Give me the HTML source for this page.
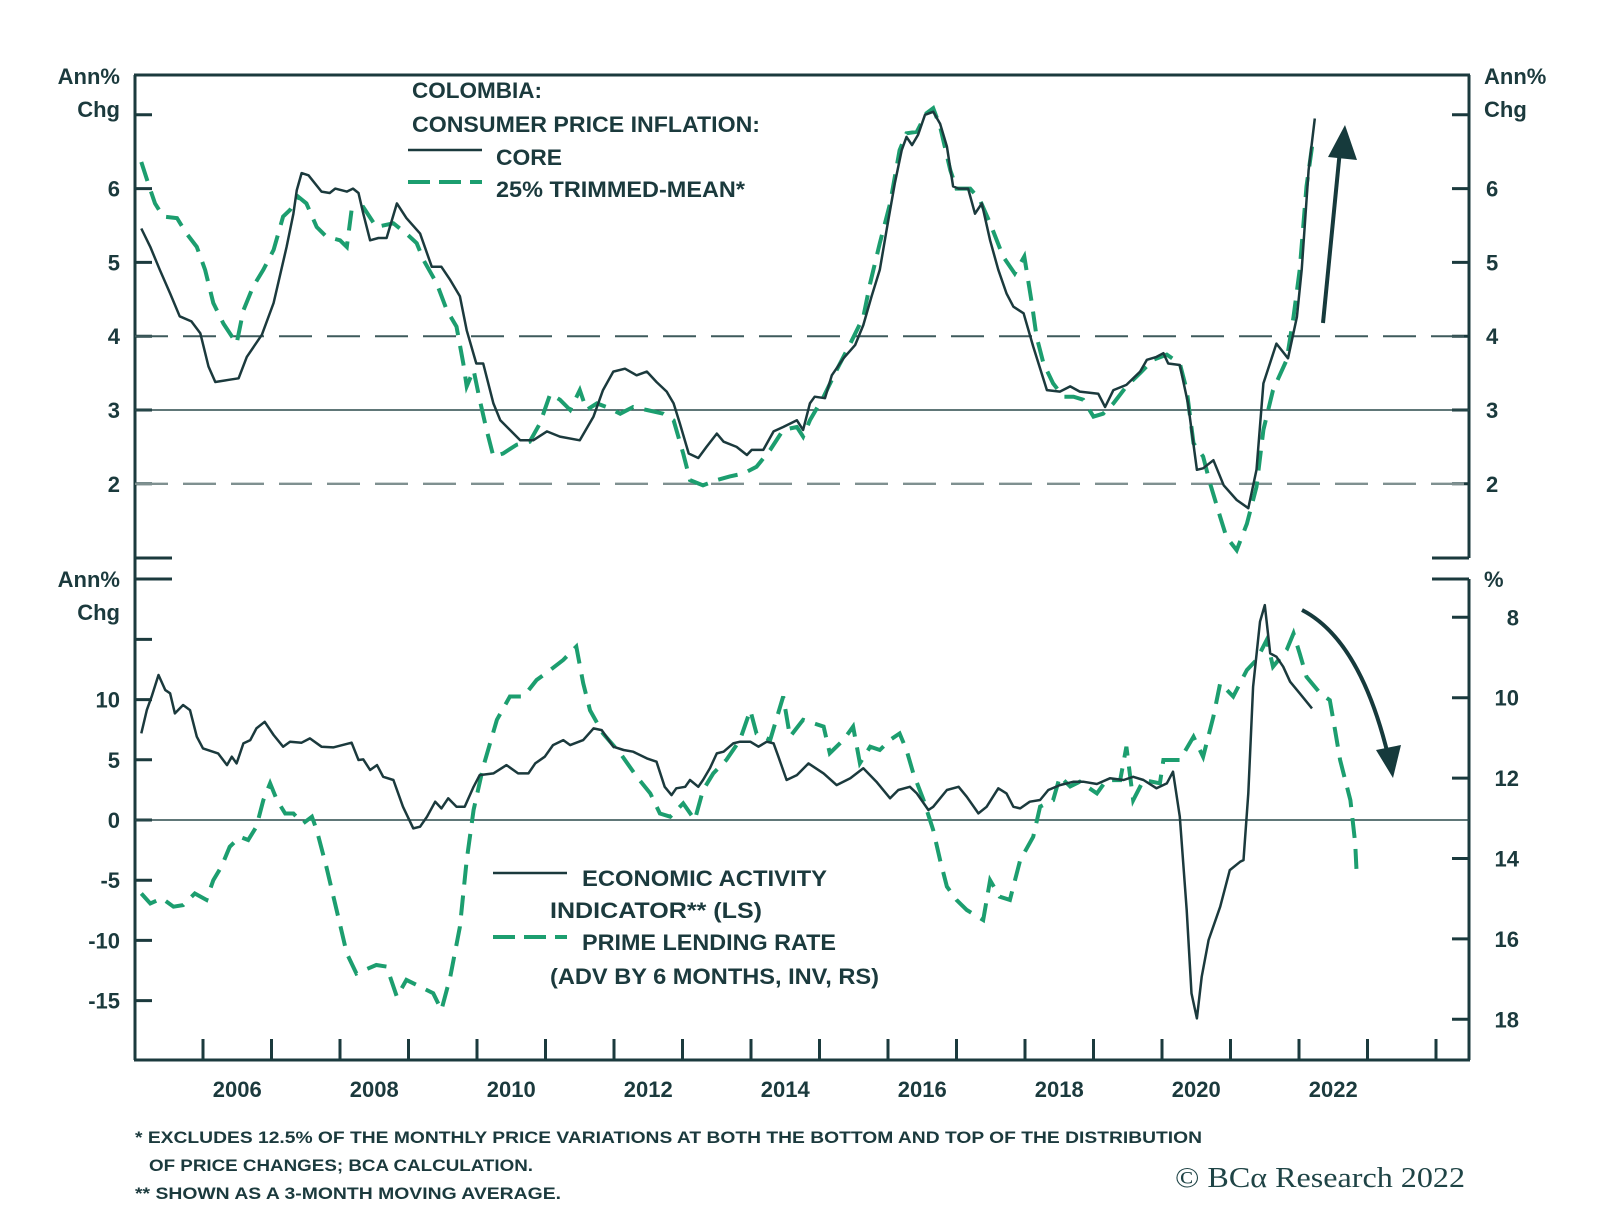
<!DOCTYPE html>
<html><head><meta charset="utf-8"><title>Colombia CPI and Economic Activity</title>
<style>
html,body{margin:0;padding:0;background:#fff;}
svg{display:block;}
text{font-family:"Liberation Sans",sans-serif;fill:#1b3a3d;font-weight:bold;}
</style></head>
<body>
<svg id="chart" width="1600" height="1232" viewBox="0 0 1600 1232" xmlns="http://www.w3.org/2000/svg">
  <g id="frame"></g>
  <g id="refs"></g>
  <g id="series"></g>
  <g id="labels"></g>
  <g>
    <text x="412" y="98" font-size="22" textLength="130" lengthAdjust="spacingAndGlyphs">COLOMBIA:</text>
    <text x="412" y="132" font-size="22" textLength="348" lengthAdjust="spacingAndGlyphs">CONSUMER PRICE INFLATION:</text>
    <line x1="408" y1="150" x2="482" y2="150" stroke="#1b3a3d" stroke-width="2.5"/>
    <text x="496" y="165" font-size="22" textLength="66" lengthAdjust="spacingAndGlyphs">CORE</text>
    <line x1="408" y1="182" x2="482" y2="182" stroke="#1c9e6f" stroke-width="4" stroke-dasharray="22,9"/>
    <text x="496" y="197" font-size="22" textLength="249" lengthAdjust="spacingAndGlyphs">25% TRIMMED-MEAN*</text>
  </g>
  <g>
    <line x1="493" y1="873" x2="567" y2="873" stroke="#1b3a3d" stroke-width="2.5"/>
    <text x="582" y="886" font-size="22" textLength="245" lengthAdjust="spacingAndGlyphs">ECONOMIC ACTIVITY</text>
    <text x="550" y="918" font-size="22" textLength="212" lengthAdjust="spacingAndGlyphs">INDICATOR** (LS)</text>
    <line x1="493" y1="937" x2="567" y2="937" stroke="#1c9e6f" stroke-width="4" stroke-dasharray="22,9"/>
    <text x="582" y="950" font-size="22" textLength="254" lengthAdjust="spacingAndGlyphs">PRIME LENDING RATE</text>
    <text x="550" y="984" font-size="22" textLength="329" lengthAdjust="spacingAndGlyphs">(ADV BY 6 MONTHS, INV, RS)</text>
  </g>
  <g>
    <line x1="1323" y1="323" x2="1340" y2="150" stroke="#163a3c" stroke-width="4"/>
    <polygon points="1345,125 1328,157 1357,160" fill="#163a3c"/>
    <path d="M1302,610 Q1360,640 1388,755" fill="none" stroke="#163a3c" stroke-width="4"/>
    <polygon points="1376,750 1401,745 1393,778" fill="#163a3c"/>
  </g>
  <g>
    <text x="135" y="1143" font-size="17" textLength="1067" lengthAdjust="spacingAndGlyphs">*  EXCLUDES 12.5% OF THE MONTHLY PRICE VARIATIONS AT BOTH THE BOTTOM AND TOP OF THE DISTRIBUTION</text>
    <text x="149" y="1171" font-size="17" textLength="384" lengthAdjust="spacingAndGlyphs">OF PRICE CHANGES; BCA CALCULATION.</text>
    <text x="135" y="1199" font-size="17" textLength="426" lengthAdjust="spacingAndGlyphs">** SHOWN AS A 3-MONTH MOVING AVERAGE.</text>
    <text x="1175" y="1187" font-size="29" textLength="290" lengthAdjust="spacingAndGlyphs" style="font-family:'Liberation Serif',serif;font-weight:normal;fill:#1f4446">© BCα Research 2022</text>
  </g>
</svg>
<script>
// ---------- data ----------
const yearTicks = [2006,2007,2008,2009,2010,2011,2012,2013,2014,2015,2016,2017,2018,2019,2020,2021,2022,2023,2024];
const yearLabels = [2006,2008,2010,2012,2014,2016,2018,2020,2022];
const topTicks = [2,3,4,5,6,7];
const topTickLabels = [2,3,4,5,6];
const leftTicks = [-15,-10,-5,0,5,10,15];
const leftTickLabels = [-15,-10,-5,0,5,10];
const rightTicks = [8,10,12,14,16,18];

const coreT = [2005.10,2005.23,2005.37,2005.52,2005.66,2005.83,2005.96,2006.08,2006.18,2006.39,2006.52,2006.64,2006.86,2007.03,2007.22,2007.32,2007.37,2007.44,2007.54,2007.73,2007.85,2007.93,2008.10,2008.19,2008.27,2008.34,2008.44,2008.56,2008.68,2008.83,2008.97,2009.17,2009.34,2009.48,2009.61,2009.75,2009.85,2009.99,2010.09,2010.24,2010.34,2010.48,2010.63,2010.82,2011.02,2011.21,2011.50,2011.70,2011.84,2011.99,2012.16,2012.33,2012.48,2012.62,2012.77,2012.87,2012.96,2013.09,2013.23,2013.35,2013.50,2013.60,2013.79,2013.94,2014.01,2014.18,2014.33,2014.47,2014.67,2014.76,2014.86,2014.93,2015.08,2015.18,2015.35,2015.52,2015.64,2015.76,2015.88,2015.98,2016.10,2016.20,2016.27,2016.35,2016.44,2016.54,2016.66,2016.76,2016.86,2016.95,2017.03,2017.17,2017.27,2017.37,2017.49,2017.61,2017.73,2017.83,2017.98,2018.12,2018.32,2018.51,2018.66,2018.80,2019.07,2019.17,2019.29,2019.48,2019.68,2019.78,2019.92,2020.02,2020.09,2020.26,2020.38,2020.51,2020.60,2020.75,2020.90,2021.09,2021.26,2021.38,2021.48,2021.67,2021.84,2021.97,2022.04,2022.14,2022.23];
const coreV = [5.46,5.21,4.90,4.58,4.27,4.20,4.04,3.59,3.38,3.41,3.43,3.72,4.02,4.45,5.21,5.66,5.98,6.21,6.18,5.96,5.94,6.00,5.96,6.00,5.94,5.66,5.30,5.33,5.33,5.80,5.60,5.39,4.94,4.94,4.76,4.54,4.08,3.63,3.63,3.09,2.86,2.73,2.59,2.59,2.71,2.64,2.59,2.91,3.27,3.52,3.56,3.47,3.52,3.38,3.25,3.09,2.82,2.41,2.35,2.50,2.68,2.57,2.50,2.39,2.46,2.46,2.71,2.77,2.86,2.73,3.09,3.18,3.16,3.47,3.70,3.88,4.15,4.54,4.90,5.44,6.07,6.52,6.70,6.59,6.73,7.00,7.04,6.88,6.57,6.03,6.00,6.00,5.66,5.80,5.30,4.90,4.58,4.40,4.31,3.86,3.27,3.25,3.32,3.25,3.22,3.04,3.27,3.34,3.52,3.68,3.72,3.77,3.63,3.61,3.09,2.19,2.21,2.32,1.98,1.78,1.67,2.19,3.36,3.90,3.70,4.26,4.90,6.25,6.95];

const trimT = [2005.10,2005.20,2005.30,2005.42,2005.62,2005.76,2005.91,2006.03,2006.15,2006.30,2006.49,2006.59,2006.73,2006.88,2007.03,2007.17,2007.27,2007.39,2007.51,2007.66,2007.80,2008.00,2008.10,2008.17,2008.34,2008.53,2008.78,2008.97,2009.12,2009.22,2009.41,2009.56,2009.70,2009.80,2009.85,2009.95,2010.04,2010.14,2010.24,2010.38,2010.58,2010.77,2010.92,2011.07,2011.21,2011.36,2011.50,2011.60,2011.75,2011.89,2012.09,2012.28,2012.48,2012.72,2012.87,2013.01,2013.11,2013.30,2013.50,2013.69,2013.89,2014.08,2014.28,2014.47,2014.67,2014.76,2014.86,2015.06,2015.25,2015.45,2015.64,2015.74,2015.88,2016.03,2016.17,2016.27,2016.42,2016.56,2016.66,2016.76,2016.91,2017.00,2017.20,2017.34,2017.49,2017.68,2017.85,2017.99,2018.10,2018.17,2018.27,2018.41,2018.56,2018.71,2018.85,2019.00,2019.14,2019.29,2019.48,2019.68,2019.87,2020.07,2020.26,2020.36,2020.46,2020.60,2020.70,2020.85,2020.94,2021.09,2021.24,2021.38,2021.48,2021.62,2021.82,2021.92,2022.01,2022.11,2022.21];
const trimV = [6.36,6.07,5.80,5.62,5.60,5.39,5.21,4.90,4.45,4.17,3.90,4.35,4.67,4.90,5.17,5.62,5.71,5.89,5.80,5.48,5.35,5.30,5.21,5.71,5.75,5.48,5.53,5.39,5.26,5.03,4.72,4.35,4.13,3.63,3.32,3.54,3.14,2.73,2.37,2.41,2.53,2.57,2.82,3.22,3.14,3.00,3.27,3.00,3.09,3.04,2.95,3.04,3.00,2.95,2.86,2.41,2.05,1.98,2.05,2.10,2.14,2.23,2.46,2.73,2.77,2.64,2.86,3.18,3.54,3.90,4.26,4.72,5.26,5.80,6.52,6.75,6.77,7.02,7.09,6.84,6.25,6.00,6.00,5.85,5.53,5.08,4.85,5.08,4.45,3.99,3.63,3.36,3.18,3.18,3.14,2.91,2.95,3.09,3.32,3.50,3.68,3.75,3.63,3.27,2.55,2.37,2.01,1.55,1.28,1.10,1.46,1.96,2.73,3.27,3.68,4.26,4.90,6.03,6.70];

const actT = [2005.10,2005.18,2005.25,2005.35,2005.45,2005.52,2005.59,2005.71,2005.81,2005.91,2006.00,2006.22,2006.35,2006.42,2006.49,2006.59,2006.69,2006.78,2006.90,2007.03,2007.17,2007.27,2007.44,2007.56,2007.73,2007.90,2008.17,2008.27,2008.34,2008.44,2008.54,2008.63,2008.78,2008.92,2009.07,2009.17,2009.27,2009.39,2009.48,2009.58,2009.70,2009.82,2009.95,2010.04,2010.24,2010.43,2010.60,2010.75,2010.85,2010.99,2011.11,2011.26,2011.36,2011.55,2011.70,2011.82,2011.99,2012.14,2012.28,2012.48,2012.62,2012.74,2012.84,2012.91,2013.04,2013.11,2013.23,2013.30,2013.40,2013.50,2013.60,2013.74,2013.84,2013.99,2014.11,2014.23,2014.33,2014.40,2014.52,2014.67,2014.84,2015.06,2015.25,2015.45,2015.64,2015.83,2016.03,2016.15,2016.32,2016.42,2016.59,2016.66,2016.86,2017.03,2017.15,2017.32,2017.44,2017.61,2017.73,2017.83,2017.93,2018.07,2018.22,2018.34,2018.51,2018.71,2018.85,2019.05,2019.24,2019.44,2019.58,2019.73,2019.92,2020.07,2020.16,2020.26,2020.36,2020.43,2020.51,2020.58,2020.68,2020.85,2020.99,2021.14,2021.19,2021.26,2021.33,2021.43,2021.50,2021.58,2021.67,2021.77,2021.87,2022.01,2022.19];
const actV = [7.19,9.13,10.24,12.04,10.79,10.52,8.85,9.55,9.13,6.92,5.95,5.53,4.56,5.26,4.70,6.36,6.64,7.61,8.16,7.06,6.09,6.50,6.42,6.78,6.09,6.03,6.42,4.98,5.03,4.15,4.56,3.59,3.32,1.10,-0.70,-0.56,0.27,1.52,0.96,1.80,1.10,1.10,2.76,3.73,3.87,4.56,3.87,3.87,4.70,5.26,6.22,6.64,6.22,6.64,7.61,7.47,6.09,5.81,5.67,5.12,4.84,2.76,2.07,2.63,2.76,3.32,2.76,3.32,4.29,5.53,5.67,6.36,6.50,6.50,6.09,6.50,6.36,5.26,3.32,3.73,4.70,3.87,2.90,3.46,4.29,3.18,1.80,2.49,2.76,2.21,0.83,1.10,2.49,2.76,1.93,0.55,1.10,2.63,2.21,1.10,0.96,1.52,1.66,2.49,2.90,3.18,3.18,2.99,3.46,3.32,3.59,3.32,2.63,3.04,4.01,0.27,-7.48,-14.40,-16.48,-13.02,-9.97,-7.20,-4.16,-3.47,-3.33,2.21,11.07,16.47,17.85,13.84,13.56,12.73,11.49,10.52,9.27];

const rateT = [2005.10,2005.23,2005.40,2005.57,2005.71,2005.88,2006.05,2006.15,2006.27,2006.39,2006.54,2006.66,2006.78,2006.88,2006.98,2007.08,2007.20,2007.32,2007.46,2007.59,2007.66,2007.80,2007.95,2008.10,2008.24,2008.53,2008.68,2008.83,2008.97,2009.17,2009.36,2009.48,2009.61,2009.75,2009.85,2009.95,2010.09,2010.29,2010.48,2010.68,2010.87,2011.07,2011.26,2011.45,2011.55,2011.65,2011.84,2012.09,2012.33,2012.53,2012.67,2012.82,2013.01,2013.18,2013.30,2013.45,2013.64,2013.84,2013.99,2014.08,2014.28,2014.47,2014.57,2014.76,2015.06,2015.15,2015.35,2015.49,2015.59,2015.74,2015.88,2016.03,2016.17,2016.27,2016.37,2016.52,2016.66,2016.76,2016.86,2017.00,2017.15,2017.39,2017.49,2017.63,2017.78,2017.93,2018.12,2018.22,2018.41,2018.51,2018.66,2018.80,2019.05,2019.19,2019.39,2019.48,2019.58,2019.73,2019.97,2020.02,2020.26,2020.46,2020.60,2020.75,2020.85,2021.04,2021.24,2021.38,2021.53,2021.62,2021.82,2021.92,2022.01,2022.11,2022.31,2022.45,2022.50,2022.60,2022.75,2022.82,2022.84];
const rateV = [14.87,15.12,14.99,15.20,15.16,14.87,15.03,14.54,14.20,13.71,13.46,13.54,13.21,12.55,12.13,12.55,12.88,12.88,13.13,12.96,13.29,14.20,15.28,16.36,16.86,16.65,16.69,17.44,17.02,17.19,17.35,17.77,16.94,15.70,14.04,12.79,11.72,10.55,9.97,9.97,9.56,9.31,9.06,8.73,9.64,10.31,10.89,11.38,11.96,12.38,12.88,12.96,12.63,13.04,12.30,11.88,11.55,11.05,10.31,10.89,11.05,9.97,10.97,10.55,10.72,11.38,11.05,10.72,11.63,11.22,11.30,11.05,10.89,11.30,11.88,12.55,13.29,14.04,14.70,15.03,15.28,15.53,14.54,14.95,15.03,14.04,13.46,12.71,12.55,11.96,12.21,12.09,12.38,12.05,12.05,11.22,12.55,12.05,12.13,11.55,11.55,10.97,11.47,10.47,9.64,9.97,9.31,9.06,8.56,9.23,8.81,8.40,8.90,9.48,9.89,10.06,10.55,11.55,12.55,13.62,14.29];

// ---------- scales ----------
const NS = 'http://www.w3.org/2000/svg';
const L = 135, R = 1469;
const xS = t => 203 + (t - 2006) * 68.5;
const yTop = v => 410 - (v - 3) * 73.8;
const yLeft = v => 820 - v * 12.04;
const yRight = r => 617.3 + (r - 8) * 40.2;
const DARK = '#1b3a3d', GREEN = '#1c9e6f';

function mk(tag, attrs, parent) {
  const el = document.createElementNS(NS, tag);
  for (const k in attrs) el.setAttribute(k, attrs[k]);
  parent.appendChild(el);
  return el;
}
const frame = document.getElementById('frame');
const refs = document.getElementById('refs');
const series = document.getElementById('series');
const labels = document.getElementById('labels');

// frame spines
let el;
el = mk('line', {x1:L, y1:75, x2:L, y2:1060, stroke:DARK, 'stroke-width':3}, frame);


el = mk('line', {x1:R, y1:75, x2:R, y2:558, stroke:DARK, 'stroke-width':3}, frame);


el = mk('line', {x1:R, y1:579, x2:R, y2:1060, stroke:DARK, 'stroke-width':3}, frame);


el = mk('line', {x1:L-1, y1:75, x2:R+1, y2:75, stroke:DARK, 'stroke-width':3}, frame);


el = mk('line', {x1:L-1, y1:1060, x2:R+1, y2:1060, stroke:DARK, 'stroke-width':3}, frame);


// panel corner ticks
[[558,'top-panel-bottom'],[579,'bottom-panel-top']].forEach(([y,n]) => {
  el = mk('line', {x1:L, y1:y, x2:L+37, y2:y, stroke:DARK, 'stroke-width':3}, frame);
  
  
  el = mk('line', {x1:R-37, y1:y, x2:R, y2:y, stroke:DARK, 'stroke-width':3}, frame);
  
  
});
// x ticks
yearTicks.forEach(yr => {
  el = mk('line', {x1:xS(yr), y1:1039, x2:xS(yr), y2:1060, stroke:DARK, 'stroke-width':3}, frame);
  
  
});
yearLabels.forEach(yr => {
  el = mk('text', {x:xS(yr + 0.5), y:1097, 'font-size':22, 'text-anchor':'middle'}, labels);
  el.textContent = yr;
  
  
});
// top panel ticks
topTicks.forEach(v => {
  el = mk('line', {x1:L, y1:yTop(v), x2:L+17, y2:yTop(v), stroke:DARK, 'stroke-width':3}, frame);
  
  
  el = mk('line', {x1:R-17, y1:yTop(v), x2:R, y2:yTop(v), stroke:DARK, 'stroke-width':3}, frame);
  
  
});
topTickLabels.forEach(v => {
  el = mk('text', {x:120, y:yTop(v)+8, 'font-size':22, 'text-anchor':'end'}, labels);
  el.textContent = v;
  
  
  el = mk('text', {x:1486, y:yTop(v)+8, 'font-size':22}, labels);
  el.textContent = v;
  
  
});
// bottom left ticks
leftTicks.forEach(v => {
  el = mk('line', {x1:L, y1:yLeft(v), x2:L+17, y2:yLeft(v), stroke:DARK, 'stroke-width':3}, frame);
  
  
});
leftTickLabels.forEach(v => {
  el = mk('text', {x:120, y:yLeft(v)+8, 'font-size':22, 'text-anchor':'end'}, labels);
  el.textContent = v;
  
  
});
rightTicks.forEach(r => {
  el = mk('line', {x1:R-17, y1:yRight(r), x2:R, y2:yRight(r), stroke:DARK, 'stroke-width':3}, frame);
  
  
  el = mk('text', {x:1519, y:yRight(r)+8, 'font-size':22, 'text-anchor':'end'}, labels);
  el.textContent = r;
  
  
});
// unit labels
[['Ann%',120,84,'end','top-left-unit'],['Chg',120,117,'end','top-left-unit-2'],
 ['Ann%',1484,84,'start','top-right-unit'],['Chg',1484,117,'start','top-right-unit-2'],
 ['Ann%',120,587,'end','bottom-left-unit'],['Chg',120,620,'end','bottom-left-unit-2'],
 ['%',1484,587,'start','bottom-right-unit']].forEach(([s,x,y,a,n]) => {
  el = mk('text', {x:x, y:y, 'font-size':22, 'text-anchor':a}, labels);
  el.textContent = s;
  
  
});
// reference lines
el = mk('line', {x1:L, y1:yTop(4), x2:R, y2:yTop(4), stroke:'#3e5a5c', 'stroke-width':2, 'stroke-dasharray':'33,15'}, refs);


el = mk('line', {x1:L, y1:yTop(3), x2:R, y2:yTop(3), stroke:'#2b4a4c', 'stroke-width':1.6}, refs);


el = mk('line', {x1:L, y1:yTop(2), x2:R, y2:yTop(2), stroke:'#7f9090', 'stroke-width':2.4, 'stroke-dasharray':'33,15'}, refs);


el = mk('line', {x1:L, y1:yLeft(0), x2:R, y2:yLeft(0), stroke:'#2b4a4c', 'stroke-width':1.6}, refs);



// series
function pts(T, V, yf) { return T.map((t,i) => xS(t).toFixed(1) + ',' + yf(V[i]).toFixed(1)).join(' '); }
el = mk('polyline', {points:pts(trimT, trimV, yTop), fill:'none', stroke:GREEN, 'stroke-width':4, 'stroke-dasharray':'20,11'}, series);


el = mk('polyline', {points:pts(coreT, coreV, yTop), fill:'none', stroke:DARK, 'stroke-width':2.5, 'stroke-linejoin':'round'}, series);


el = mk('polyline', {points:pts(rateT, rateV, yRight), fill:'none', stroke:GREEN, 'stroke-width':4, 'stroke-dasharray':'20,11'}, series);


el = mk('polyline', {points:pts(actT, actV, yLeft), fill:'none', stroke:DARK, 'stroke-width':2.5, 'stroke-linejoin':'round'}, series);


</script>
</body></html>
